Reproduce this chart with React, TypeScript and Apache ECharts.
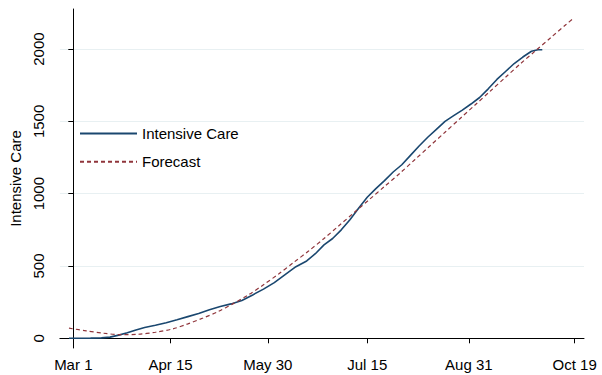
import React, { useEffect, useRef } from "react";
import * as echarts from "echarts";

// Days are counted from Mar 1 (day 0).
const icuDays = [-2, 3, 8, 13, 17, 21, 25, 29, 33, 38, 43, 48, 53, 58, 63, 68, 73, 78, 83, 88, 93, 98, 103, 108, 112, 116, 120, 124, 128, 132, 136, 140, 144, 148, 152, 156, 160, 164, 168, 172, 176, 180, 184, 188, 192, 196, 200, 204, 208, 212, 215, 217];
const icuValues = [0, 0, 1, 3, 8, 22, 38, 58, 75, 90, 108, 128, 150, 172, 198, 220, 238, 262, 300, 340, 385, 440, 495, 535, 585, 646, 690, 750, 820, 900, 975, 1035, 1090, 1150, 1200, 1265, 1330, 1390, 1445, 1500, 1540, 1578, 1620, 1665, 1725, 1790, 1845, 1900, 1945, 1985, 1995, 1995];

const forecastDays = [-2, 6, 14, 22, 30, 38, 46, 53, 60, 67, 74, 81, 88, 95, 102, 109, 116, 123, 130, 137, 144, 151, 158, 165, 172, 179, 186, 193, 200, 207, 214, 221, 228, 231];
const forecastValues = [70, 52, 35, 25, 28, 42, 65, 100, 140, 185, 240, 300, 370, 445, 525, 605, 690, 780, 870, 960, 1050, 1140, 1235, 1330, 1425, 1520, 1615, 1710, 1805, 1900, 1990, 2080, 2170, 2208];

const xTickDays = [0, 45, 90, 136, 183, 232];
const xTickLabels = ["Mar 1", "Apr 15", "May 30", "Jul 15", "Aug 31", "Oct 19"];
const yTickValues = [0, 500, 1000, 1500, 2000];

const FONT = "Liberation Sans, Arial, Helvetica, sans-serif";
const FS = 15;

export default function App() {
  const ref = useRef<HTMLDivElement>(null);

  useEffect(() => {
    if (!ref.current) return;
    const chart = echarts.init(ref.current, undefined, { renderer: "svg" });
    const pair = (xs: number[], ys: number[]) => xs.map((x, i) => [x, ys[i]]);

    chart.setOption({
      animation: false,
      backgroundColor: "#ffffff",
      textStyle: { fontFamily: FONT },
      grid: { left: 57, right: 18, top: 9, bottom: 27, containLabel: false },
      legend: {
        orient: "vertical",
        left: 74,
        top: 121,
        itemWidth: 57,
        itemHeight: 14,
        itemGap: 13.2,
        itemStyle: { opacity: 0 },
        textStyle: { fontFamily: FONT, fontSize: FS, color: "#000", padding: [0, 0, 0, 0] },
        data: ["Intensive Care", "Forecast"],
      },
      xAxis: {
        type: "value",
        min: -6.2,
        max: 236.3,
        axisLine: { show: true, lineStyle: { color: "#000", width: 1 } },
        axisTick: { show: true, length: 5, lineStyle: { color: "#000" }, customValues: xTickDays },
        axisLabel: {
          customValues: xTickDays,
          margin: 9,
          fontFamily: FONT,
          fontSize: FS,
          color: "#000",
          formatter: (v: number) => {
            const i = xTickDays.indexOf(Math.round(v));
            return i >= 0 ? xTickLabels[i] : "";
          },
        },
        splitLine: { show: false },
      },
      yAxis: {
        type: "value",
        min: -67,
        max: 2277,
        name: "Intensive Care",
        nameLocation: "middle",
        nameRotate: 90,
        nameGap: 33,
        nameTextStyle: { fontFamily: FONT, fontSize: FS, color: "#000" },
        axisLine: { show: true, lineStyle: { color: "#000", width: 1 } },
        axisTick: { show: true, length: 5, lineStyle: { color: "#000" }, customValues: yTickValues },
        axisLabel: {
          customValues: yTickValues,
          rotate: 90,
          margin: 14,
          fontFamily: FONT,
          fontSize: FS,
          color: "#000",
          formatter: (v: number) => String(Math.round(v)),
        },
        splitLine: { show: true, lineStyle: { color: "#e8f0f2", width: 1.2 } },
      },
      series: [
        {
          name: "Intensive Care",
          type: "line",
          data: pair(icuDays, icuValues),
          symbol: "none",
          lineStyle: { color: "#1a476f", width: 1.6 },
          itemStyle: { color: "#1a476f" },
          z: 3,
        },
        {
          name: "Forecast",
          type: "line",
          data: pair(forecastDays, forecastValues),
          symbol: "none",
          smooth: 0.3,
          lineStyle: { color: "#90353b", width: 1.2, type: [4, 3] },
          itemStyle: { color: "#90353b" },
          z: 4,
        },
      ],
    });

    return () => chart.dispose();
  }, []);

  return <div ref={ref} style={{ width: 602, height: 375, position: "absolute", left: 0, top: 0 }} />;
}
